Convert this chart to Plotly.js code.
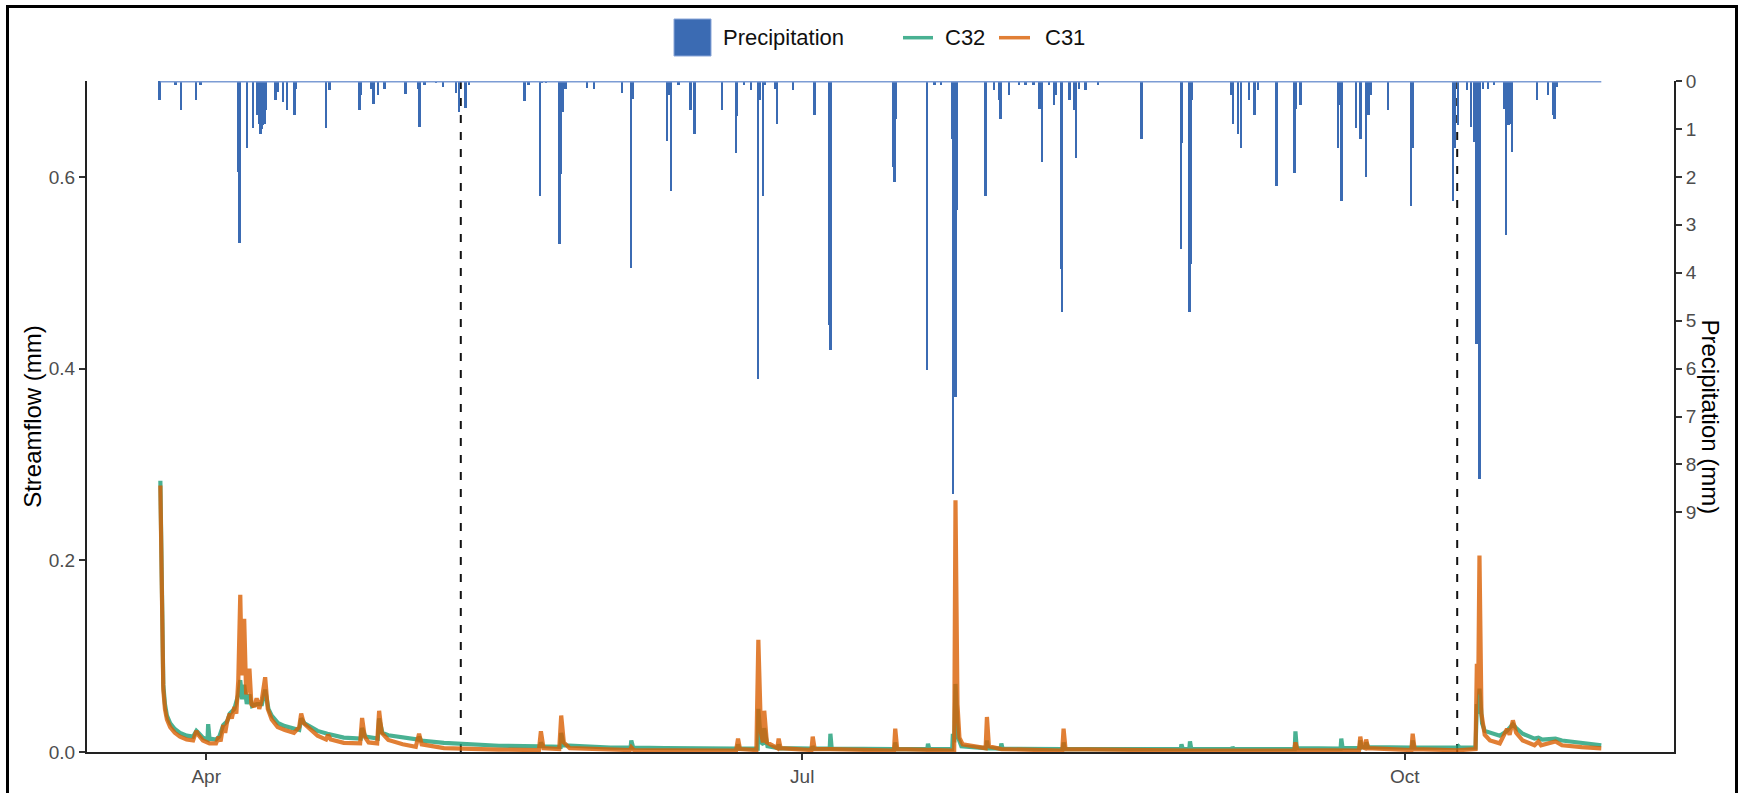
<!DOCTYPE html>
<html><head><meta charset="utf-8">
<script src="https://cdn.plot.ly/plotly-3.0.1.min.js"></script>
<style>
html,body{margin:0;padding:0;background:#fff;overflow:hidden}
#chart{position:absolute;left:0;top:0;width:1739px;height:793px}
#frame{position:absolute;left:6px;top:5px;width:1726px;height:800px;border:3px solid #000;border-bottom:none;pointer-events:none}
</style></head>
<body><div id="chart"></div><div id="frame"></div>
<script>
// ---------- DATA (time = days since 1 Jan 2021 00:00) ----------
const YEAR = 2021;
const tickDates = ['2021-04-01', '2021-07-01', '2021-10-01'];
const tickLabels = ['Apr', 'Jul', 'Oct'];
const markerDays = [128.87, 281.0];           // dashed vertical lines
const dataStartDay = 83.0, dataEndDay = 303.0;

const c32Time = [83.0,83.12,83.25,83.45,83.7,84.0,84.5,85.2,86.0,87.0,88.0,88.5,88.8,89.5,90.2,90.3,90.5,91.5,92.0,92.6,93.2,93.6,94.3,94.9,95.2,95.5,95.8,96.2,96.6,97.0,97.7,98.5,99.0,99.5,100,101,102,103.4,104.2,104.5,105,106,107,108.5,111,113.6,113.8,114.3,116.2,116.4,116.9,117.8,120,122,122.4,122.5,122.8,126.3,130,134.7,141.0,141.1,141.4,144.1,144.2,144.6,151.7,154.8,154.9,155.2,160,171.1,171.2,171.4,174.2,174.3,174.7,175.1,175.2,175.7,177.3,177.4,177.6,182.5,182.6,182.8,185.2,185.3,185.5,195.1,195.2,195.4,200.1,200.2,200.4,203.9,204.0,204.2,204.4,204.8,205.3,209.1,209.2,209.4,211.3,211.4,211.6,220.8,220.9,221.1,238.8,238.9,239.1,240.1,240.2,240.4,246.6,246.7,246.9,256.2,256.3,256.5,263.2,263.3,263.5,266.1,266.2,266.4,267.0,267.1,267.4,274.1,274.2,274.4,281.0,281.2,281.4,283.8,284.0,284.2,284.4,284.8,285.2,286,287.5,288.6,289.5,290,291,292.8,293.4,294,296,297,300,303];
const c32Flow = [0.283,0.2,0.12,0.07,0.05,0.038,0.03,0.024,0.02,0.017,0.016,0.022,0.02,0.015,0.013,0.029,0.014,0.013,0.016,0.028,0.032,0.04,0.045,0.06,0.075,0.055,0.07,0.05,0.06,0.048,0.05,0.05,0.065,0.045,0.038,0.03,0.027,0.024,0.023,0.035,0.03,0.026,0.022,0.019,0.015,0.014,0.025,0.016,0.014,0.035,0.02,0.0175,0.015,0.013,0.013,0.016,0.012,0.0095,0.008,0.0065,0.006,0.01,0.006,0.0055,0.02,0.007,0.0045,0.0045,0.012,0.0045,0.004,0.0035,0.008,0.0035,0.0035,0.045,0.01,0.008,0.025,0.006,0.004,0.008,0.004,0.0035,0.006,0.0035,0.0035,0.019,0.0035,0.003,0.01,0.003,0.003,0.0085,0.003,0.003,0.019,0.01,0.071,0.015,0.006,0.004,0.012,0.004,0.0035,0.0088,0.0035,0.003,0.01,0.003,0.003,0.008,0.003,0.003,0.011,0.003,0.003,0.005,0.003,0.003,0.0216,0.004,0.0035,0.014,0.004,0.004,0.012,0.005,0.005,0.01,0.005,0.0045,0.012,0.0045,0.0045,0.006,0.0045,0.0045,0.05,0.04,0.066,0.03,0.022,0.02,0.017,0.022,0.029,0.025,0.019,0.014,0.015,0.013,0.014,0.012,0.009,0.007];

const c31Time = [83.0,83.12,83.25,83.45,83.7,84.0,84.5,85.2,86.0,87.0,88.0,88.5,88.8,89.5,90.5,91.5,91.9,92.2,92.6,92.9,93.2,93.6,93.9,94.3,94.6,94.9,95.2,95.45,95.8,96.1,96.6,96.9,97.3,97.7,98.1,98.5,99.0,99.4,100.0,100.9,102.0,103.4,104.2,104.5,104.9,105.9,107.0,108.3,108.6,109.0,111.0,113.5,113.8,114.2,114.8,116.1,116.4,116.8,117.8,120.0,122.0,122.5,122.9,126.3,130,134.7,140.8,141.1,141.5,143.9,144.2,144.6,145.5,151.7,154.7,154.9,155.3,160.5,170.9,171.2,171.5,174.0,174.3,174.7,175.0,175.2,175.6,177.2,177.4,177.7,182.4,182.6,182.9,185.3,195.0,195.2,195.5,204.2,204.4,204.7,205.0,205.5,209.0,209.2,209.5,211.4,220.7,220.9,221.2,240.2,256.1,256.3,256.6,266.0,266.2,266.5,266.9,267.1,267.4,274.0,274.2,274.5,281,283.8,284.0,284.2,284.4,284.7,285.2,286,287.5,288.6,289.0,289.5,290,291,292.8,293.4,293.8,296.0,297,300,303];
const c31Flow = [0.278,0.2,0.11,0.065,0.045,0.034,0.026,0.02,0.016,0.013,0.012,0.022,0.018,0.012,0.009,0.009,0.016,0.011,0.028,0.02,0.032,0.040,0.035,0.047,0.04,0.075,0.164,0.08,0.139,0.06,0.087,0.05,0.047,0.056,0.045,0.055,0.078,0.045,0.034,0.026,0.023,0.02,0.026,0.040,0.03,0.024,0.017,0.013,0.018,0.013,0.0095,0.009,0.0355,0.016,0.01,0.009,0.043,0.02,0.0125,0.008,0.0055,0.019,0.008,0.004,0.003,0.0025,0.002,0.0216,0.004,0.003,0.038,0.01,0.004,0.002,0.002,0.005,0.002,0.0018,0.0015,0.014,0.003,0.002,0.117,0.02,0.01,0.043,0.01,0.004,0.014,0.004,0.002,0.016,0.003,0.003,0.0015,0.0244,0.003,0.0015,0.2626,0.05,0.015,0.008,0.004,0.0365,0.006,0.003,0.0015,0.0244,0.003,0.0015,0.0015,0.010,0.002,0.0015,0.016,0.005,0.004,0.013,0.004,0.002,0.019,0.003,0.0018,0.003,0.092,0.06,0.205,0.04,0.018,0.012,0.009,0.024,0.018,0.033,0.02,0.012,0.007,0.011,0.007,0.011,0.007,0.005,0.0037];

const precipTime = [82.92,85.36,86.23,88.52,89.18,94.95,95.13,96.31,97.16,97.88,98.11,98.34,98.49,98.69,98.79,98.95,99.18,100.63,100.98,101.74,102.35,103.53,103.79,108.37,108.87,113.45,113.71,115.24,115.59,116.24,117.27,120.47,122.35,122.61,123.37,125.16,126.17,128.21,128.61,129.63,130.14,138.64,139.25,141.04,141.28,141.95,143.98,144.24,144.49,144.90,148.21,149.22,153.56,154.93,155.18,160.43,160.78,161.04,162.15,163.98,164.60,168.82,170.96,171.11,172.12,173.25,174.26,174.52,175.02,175.39,176.96,177.22,179.60,182.92,185.21,185.36,194.87,195.13,195.28,200.12,201.24,202.26,203.94,204.09,204.44,204.64,209.02,209.13,210.29,211.05,211.31,212.58,214.11,215.13,216.35,217.27,217.68,218.69,219.45,219.82,220.58,220.73,221.85,222.61,222.87,223.27,224.29,226.17,232.84,238.90,239.05,240.17,240.43,240.58,246.53,246.78,247.54,248.06,249.22,250.09,250.60,253.45,256.20,256.46,257.11,262.81,263.07,263.37,265.62,266.27,267.15,267.50,267.80,270.44,274.02,274.26,280.37,280.73,281.13,282.56,283.18,283.68,283.98,284.18,284.44,284.95,285.71,286.63,288.26,288.52,288.87,289.28,289.44,293.25,294.87,295.63,295.89,296.31];
const precipMM = [0.40,0.09,0.60,0.40,0.09,1.90,3.39,1.40,0.99,0.70,0.90,1.10,1.00,0.92,0.80,0.89,0.60,0.40,0.23,0.44,0.60,0.70,0.16,0.99,0.19,0.60,0.30,0.16,0.49,0.30,0.17,0.28,0.16,0.96,0.09,0.05,0.12,0.26,0.65,0.56,0.08,0.42,0.09,2.39,0.05,0.05,3.41,1.93,0.65,0.17,0.14,0.16,0.26,3.90,0.37,1.25,0.30,2.30,0.09,0.60,1.11,0.60,1.50,0.72,0.09,0.19,6.21,0.40,2.40,0.09,0.16,0.90,0.19,0.70,5.10,5.62,1.80,2.11,0.79,6.02,0.09,0.09,1.20,8.61,6.60,2.70,2.40,0.40,0.19,0.40,0.80,0.30,0.09,0.09,0.09,0.58,1.70,0.09,0.51,0.30,3.92,4.81,0.40,0.61,1.60,0.16,0.19,0.09,1.20,3.50,1.30,4.81,3.81,0.40,0.30,0.90,1.10,1.40,0.40,0.70,0.19,2.20,1.91,0.58,0.51,1.40,0.51,2.51,0.99,1.20,2.00,0.70,0.30,0.60,2.61,1.40,2.51,1.40,0.92,0.19,0.96,1.27,5.48,3.22,8.30,0.16,0.16,0.09,0.58,3.21,0.92,0.89,1.48,0.40,0.30,0.70,0.80,0.12];

const flowTicks = [0, 0.2, 0.4, 0.6];
const flowTickLabels = ['0.0', '0.2', '0.4', '0.6'];
const precipTicks = [0,1,2,3,4,5,6,7,8,9];

// ---------- HELPERS ----------
function toDate(t) {
  const d = new Date(Date.UTC(YEAR, 0, 1) + Math.round(t * 86400000));
  return d.toISOString().slice(0, 19).replace('T', ' ');
}
const W = 1739, H = 793, ML = 87, MR = 65, MT = 81, MB = 41;
const PX = px => (px - ML) / (W - ML - MR);
const PY = py => (H - MB - py) / (H - MT - MB);

const FONT = 'Arial, "Liberation Sans", sans-serif';
const GREEN = 'rgba(27,158,119,0.8)';
const ORANGE = 'rgba(217,95,2,0.8)';
const BLUE = '#3b6bb3';

const traces = [
  { type: 'scatter', mode: 'lines', name: 'C32', x: c32Time.map(toDate), y: c32Flow,
    line: { color: GREEN, width: 4.2 }, showlegend: false, hoverinfo: 'skip' },
  { type: 'scatter', mode: 'lines', name: 'C31', x: c31Time.map(toDate), y: c31Flow,
    line: { color: ORANGE, width: 4.2 }, showlegend: false, hoverinfo: 'skip' },
  { type: 'scatter', mode: 'lines', x: [toDate(dataStartDay), toDate(dataEndDay)], y: [0, 0],
    yaxis: 'y2', line: { color: '#7c9cd4', width: 3 }, showlegend: false, hoverinfo: 'skip' },
  { type: 'bar', name: 'Precipitation', x: precipTime.map(toDate), y: precipMM, yaxis: 'y2',
    width: 7 * 3600000, marker: { color: BLUE, line: { width: 0 } }, showlegend: false, hoverinfo: 'skip' }
];

const axisCommon = {
  showline: true, linecolor: '#222', linewidth: 2, ticks: 'outside', ticklen: 6, tickwidth: 2,
  tickcolor: '#333', showgrid: false, zeroline: false, fixedrange: true,
  tickfont: { family: FONT, size: 19, color: '#4d4d4d' }
};

const shapes = markerDays.map(d => ({
  type: 'line', xref: 'x', yref: 'paper', x0: toDate(d), x1: toDate(d), y0: 0, y1: 1,
  line: { color: '#111', width: 2, dash: '8px,9px' }, layer: 'below'
}));
// legend keys
shapes.push({ type: 'rect', xref: 'paper', yref: 'paper', x0: PX(674), x1: PX(711), y0: PY(56), y1: PY(19),
  fillcolor: BLUE, line: { color: '#8aa6d8', width: 1 } });
shapes.push({ type: 'line', xref: 'paper', yref: 'paper', x0: PX(903), x1: PX(933), y0: PY(37.7), y1: PY(37.7),
  line: { color: GREEN, width: 3.5 } });
shapes.push({ type: 'line', xref: 'paper', yref: 'paper', x0: PX(999), x1: PX(1030), y0: PY(37.7), y1: PY(37.7),
  line: { color: ORANGE, width: 3.5 } });

const legFont = { family: FONT, size: 22, color: '#111' };
const annotations = [
  { text: 'Precipitation', xref: 'paper', yref: 'paper', x: PX(722), y: PY(37.5), xanchor: 'left', yanchor: 'middle', showarrow: false, font: legFont, borderpad: 0 },
  { text: 'C32', xref: 'paper', yref: 'paper', x: PX(944), y: PY(37.5), xanchor: 'left', yanchor: 'middle', showarrow: false, font: legFont, borderpad: 0 },
  { text: 'C31', xref: 'paper', yref: 'paper', x: PX(1044), y: PY(37.5), xanchor: 'left', yanchor: 'middle', showarrow: false, font: legFont, borderpad: 0 },
  { text: 'Precipitation (mm)', xref: 'paper', yref: 'paper', x: PX(1710), y: 0.5, xanchor: 'center', yanchor: 'middle',
    textangle: 90, showarrow: false, font: { family: FONT, size: 24, color: '#000' } }
];

const layout = {
  width: W, height: H, margin: { l: ML, r: MR, t: MT, b: MB, pad: 0 },
  paper_bgcolor: '#fff', plot_bgcolor: '#fff', showlegend: false,
  font: { family: FONT },
  xaxis: Object.assign({}, axisCommon, {
    type: 'date', range: [toDate(71.8), toDate(314.1)],
    tickmode: 'array', tickvals: tickDates, ticktext: tickLabels
  }),
  yaxis: Object.assign({}, axisCommon, {
    range: [0, 0.7], tickmode: 'array', tickvals: flowTicks, ticktext: flowTickLabels,
    title: { text: 'Streamflow (mm)', font: { family: FONT, size: 24, color: '#000' }, standoff: 0 }
  }),
  yaxis2: Object.assign({}, axisCommon, {
    overlaying: 'y', side: 'right', anchor: 'x', range: [14, 0],
    tickmode: 'array', tickvals: precipTicks, ticktext: precipTicks.map(String)
  }),
  bargap: 0,
  shapes: shapes,
  annotations: annotations
};

Plotly.newPlot('chart', traces, layout, { displayModeBar: false, responsive: false });
</script>
</body></html>
